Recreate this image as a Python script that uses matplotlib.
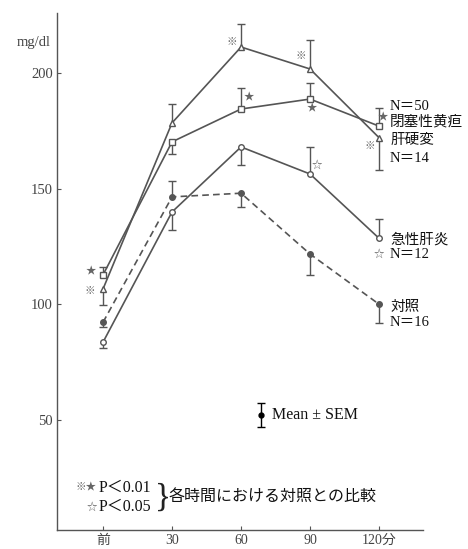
import numpy as np
import matplotlib
matplotlib.use("Agg")
import matplotlib.pyplot as plt

plt.rcParams['font.family'] = ['Liberation Serif', 'Noto Sans CJK JP', 'DejaVu Sans']

# time points: 前, 30, 60, 90, 120 min
x = np.arange(5)
xlabels = ['前', '30', '60', '90', '120分']

# glucose (mg/dl), mean and one-sided SEM (dn / up)
jaundice = [112.7, 170.2, 184.4, 188.7, 177.0]
jaundice_up = [3.5, 0, 9, 7, 8]
jaundice_dn = [0, 5.3, 0, 0, 0]

cirrhosis = [106.6, 178.4, 211.2, 201.7, 172.0]
cirrhosis_up = [0, 8, 10, 12.6, 0]
cirrhosis_dn = [7, 0, 0, 0, 14]

acute = [83.6, 139.9, 168.0, 156.3, 128.5]
acute_up = [0, 0, 0, 11.7, 8.3]
acute_dn = [2.5, 8, 8, 0, 0]

control = [92.2, 146.4, 148.0, 121.7, 100.0]
control_up = [0, 7, 0, 0, 0]
control_dn = [2, 0, 6, 9, 8]

# significance marks: (series, time index, symbol, dx px, dy px)
sig = [('j', 0, '★', -12, 3), ('c', 0, '※', -13, -3),
       ('c', 2, '※', -9, 5), ('j', 2, '★', 8, 11),
       ('c', 3, '※', -9, 12), ('j', 3, '★', 2, -10), ('a', 3, '☆', 7, 9),
       ('j', 4, '★', 4, 8), ('c', 4, '※', -9, -9), ('a', 4, '☆', 0, -16)]

LC = '#555555'

fig = plt.figure(figsize=(4.68, 5.49), dpi=100)
ax = fig.add_axes([0.1218, 0.0346, 0.904 - 0.1218, 0.9763 - 0.0346])


def bars(y, dn, up):
    y = np.array(y); dn = np.array(dn); up = np.array(up)
    ax.vlines(x, y - dn, y + up, color=LC, lw=1.0, zorder=2)
    m = up > 0
    ax.plot(x[m], (y + up)[m], '_', color=LC, ms=6, mew=1.0, zorder=2)
    m = dn > 0
    ax.plot(x[m], (y - dn)[m], '_', color=LC, ms=6, mew=1.0, zorder=2)


series = {'j': jaundice, 'c': cirrhosis, 'a': acute, 'k': control}

bars(jaundice, jaundice_dn, jaundice_up)
bars(cirrhosis, cirrhosis_dn, cirrhosis_up)
bars(acute, acute_dn, acute_up)
bars(control, control_dn, control_up)

ax.plot(x, jaundice, '-', color=LC, lw=1.2, marker='s', ms=4, mfc='white', mec=LC, zorder=3)
ax.plot(x, cirrhosis, '-', color=LC, lw=1.2, marker='^', ms=4.5, mfc='white', mec=LC, zorder=3)
ax.plot(x, acute, '-', color=LC, lw=1.2, marker='o', ms=4, mfc='white', mec=LC, zorder=3)
ax.plot(x, control, '--', color=LC, lw=1.2, marker='o', ms=4, mfc=LC, mec=LC, zorder=3,
        dashes=(4, 2.5))

for s, i, sym, dx, dy in sig:
    ax.annotate(sym, (x[i], series[s][i]), xytext=(dx, dy), textcoords='offset pixels',
                ha='center', va='center', fontsize=7.5, color='#666666')

# group labels
lab = [(185.3, 'N＝50'), (178.8, '閉塞性黄疸'), (171.0, '肝硬変'), (163.2, 'N＝14'),
       (127.8, '急性肝炎'), (121.3, 'N＝12'), (98.8, '対照'), (91.9, 'N＝16')]
for yy, t in lab:
    ax.text(4.16, yy, t, ha='left', va='center', fontsize=10.5, color='#111111', clip_on=False)

# Mean ± SEM legend
ax.errorbar([2.29], [52.1], yerr=[[5], [5]], fmt='o', color='black', ms=3.5, capsize=3, lw=1)
ax.text(2.45, 52.1, 'Mean ± SEM', ha='left', va='center', fontsize=11.5, color='#111111')

# bottom note
ax.text(-0.09, 20.6, '※★', ha='right', va='center', fontsize=7.5, color='#666666')
ax.text(-0.09, 12.4, '☆', ha='right', va='center', fontsize=7.5, color='#666666')
ax.text(-0.07, 20.6, 'P＜0.01', ha='left', va='center', fontsize=11.5, color='#111111')
ax.text(-0.07, 12.4, 'P＜0.05', ha='left', va='center', fontsize=11.5, color='#111111')
ax.text(0.87, 16.5, '}', ha='center', va='center', fontsize=24, color='#222222',
        family='Liberation Serif')
ax.text(0.95, 16.5, '各時間における対照との比較', ha='left', va='center', fontsize=11.5,
        color='#111111')

ax.text(-0.76, 213, 'mg/dl', ha='right', va='center', fontsize=10.5, color='#444444',
        clip_on=False)

ax.set_xlim(-0.667, 4.638)
ax.set_ylim(2.4, 225.9)
ax.set_xticks(x)
ax.set_xticklabels(xlabels, fontsize=10, color='#444444')
ax.set_yticks([50, 100, 150, 200])
ax.set_yticklabels(['50', '100', '150', '200'], fontsize=10.5, color='#444444')
ax.tick_params(direction='in', length=3, color='#555555', pad=3)
for sp in ['top', 'right']:
    ax.spines[sp].set_visible(False)
for sp in ['left', 'bottom']:
    ax.spines[sp].set_color('#555555')
    ax.spines[sp].set_linewidth(1.0)

fig.savefig('out.png', dpi=100)
